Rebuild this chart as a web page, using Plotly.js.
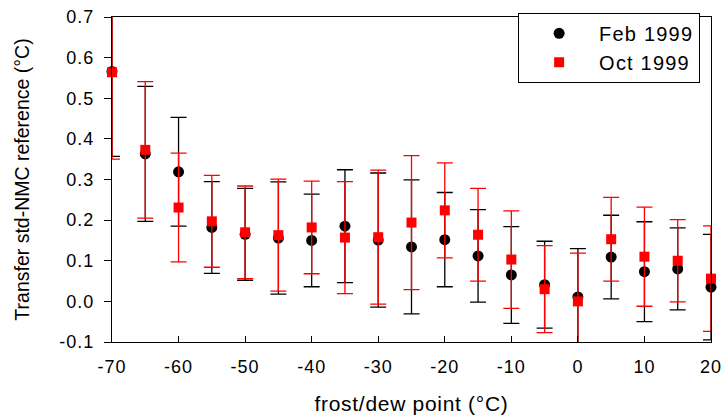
<!DOCTYPE html>
<html><head><meta charset="utf-8">
<script src="https://cdn.plot.ly/plotly-3.0.1.min.js"></script>
<style>
html,body{margin:0;padding:0;background:#fff;}
#chart{width:721px;height:415px;}
.xtick text,.ytick text{letter-spacing:1px;}
.legendtext{letter-spacing:1.2px;}
.xtitle{letter-spacing:0.7px;}
</style></head><body><div id="chart"></div>
<script>
const dewPoint = [-70,-65,-60,-55,-50,-45,-40,-35,-30,-25,-20,-15,-10,-5,0,5,10,15,20];
const feb1999 = [0.566,0.363,0.319,0.182,0.165,0.156,0.150,0.185,0.151,0.134,0.152,0.112,0.065,0.041,0.011,0.109,0.073,0.080,0.035];
const feb1999Err = [0.209,0.166,0.134,0.113,0.113,0.138,0.114,0.139,0.165,0.165,0.116,0.114,0.119,0.107,0.119,0.103,0.123,0.101,0.130];
const oct1999 = [0.564,0.373,0.231,0.197,0.170,0.163,0.182,0.157,0.158,0.194,0.224,0.164,0.103,0.030,0.000,0.153,0.110,0.100,0.056];
const oct1999Err = [0.214,0.168,0.134,0.113,0.114,0.138,0.114,0.138,0.165,0.165,0.117,0.114,0.120,0.107,0.119,0.103,0.122,0.101,0.130];
const xTickVals = [-70,-60,-50,-40,-30,-20,-10,0,10,20];
const xTickText = ['-70','-60','-50','-40','-30','-20','-10','0','10','20'];
const yTickVals = [-0.1,0,0.1,0.2,0.3,0.4,0.5,0.6,0.7];
const yTickText = ['-0.1','0.0','0.1','0.2','0.3','0.4','0.5','0.6','0.7'];

const FONT = 'Liberation Sans, Arial, Helvetica, sans-serif';

const traces = [
  {
    x: dewPoint, y: feb1999, name: 'Feb 1999', type: 'scatter', mode: 'markers',
    cliponaxis: false,
    marker: {symbol: 'circle', size: 11, color: '#000000', line: {width: 0}},
    error_y: {type: 'data', array: feb1999Err, visible: true, color: '#000000', thickness: 1.3, width: 8}
  },
  {
    x: dewPoint, y: oct1999, name: 'Oct 1999', type: 'scatter', mode: 'markers',
    cliponaxis: false,
    marker: {symbol: 'square', size: 10, color: '#ff0000', line: {width: 0}},
    error_y: {type: 'data', array: oct1999Err, visible: true, color: '#ff0000', thickness: 1.3, width: 8}
  }
];

const layout = {
  width: 721, height: 415,
  margin: {l: 112, r: 10, t: 17, b: 73, pad: 0},
  paper_bgcolor: '#ffffff', plot_bgcolor: '#ffffff',
  font: {family: FONT, color: '#000000'},
  showlegend: true,
  xaxis: {
    range: [-70, 20], tickmode: 'array', tickvals: xTickVals, ticktext: xTickText,
    ticks: 'inside', ticklen: 6, tickwidth: 1, tickcolor: '#000000',
    ticklabelstandoff: 8, ticklabeloverflow: 'allow',
    showline: true, mirror: true, linecolor: '#000000', linewidth: 1,
    showgrid: false, zeroline: false,
    tickfont: {family: FONT, size: 18, color: '#000000'},
    title: {text: 'frost/dew point (°C)', font: {family: FONT, size: 21, color: '#000000'}, standoff: 21}
  },
  yaxis: {
    range: [-0.1, 0.7], tickmode: 'array', tickvals: yTickVals, ticktext: yTickText,
    ticks: 'outside', ticklen: 7, tickwidth: 1, tickcolor: '#000000',
    ticklabelstandoff: 6, ticklabeloverflow: 'allow',
    showline: true, mirror: true, linecolor: '#000000', linewidth: 1,
    showgrid: false, zeroline: false,
    tickfont: {family: FONT, size: 18, color: '#000000'},
    title: {text: 'Transfer std-NMC reference (°C)', font: {family: FONT, size: 19.5, color: '#000000'}, standoff: 24}
  },
  legend: {
    x: 0.678, y: 1.013, xanchor: 'left', yanchor: 'top',
    bgcolor: '#ffffff', bordercolor: '#000000', borderwidth: 1,
    itemwidth: 70, font: {family: FONT, size: 20, color: '#000000'}
  },
  shapes: [
    {type: 'rect', xref: 'paper', yref: 'paper', x0: -0.008, x1: 0.008, y0: 1.004, y1: 1.12,
     fillcolor: '#ffffff', line: {width: 0}, layer: 'above'},
    {type: 'rect', xref: 'x', yref: 'paper', x0: -2.2, x1: 2.2, y0: -0.004, y1: -0.03,
     fillcolor: '#ffffff', line: {width: 0}, layer: 'above'}
  ]
};

Plotly.newPlot('chart', traces, layout, {staticPlot: true, displayModeBar: false});
</script></body></html>
